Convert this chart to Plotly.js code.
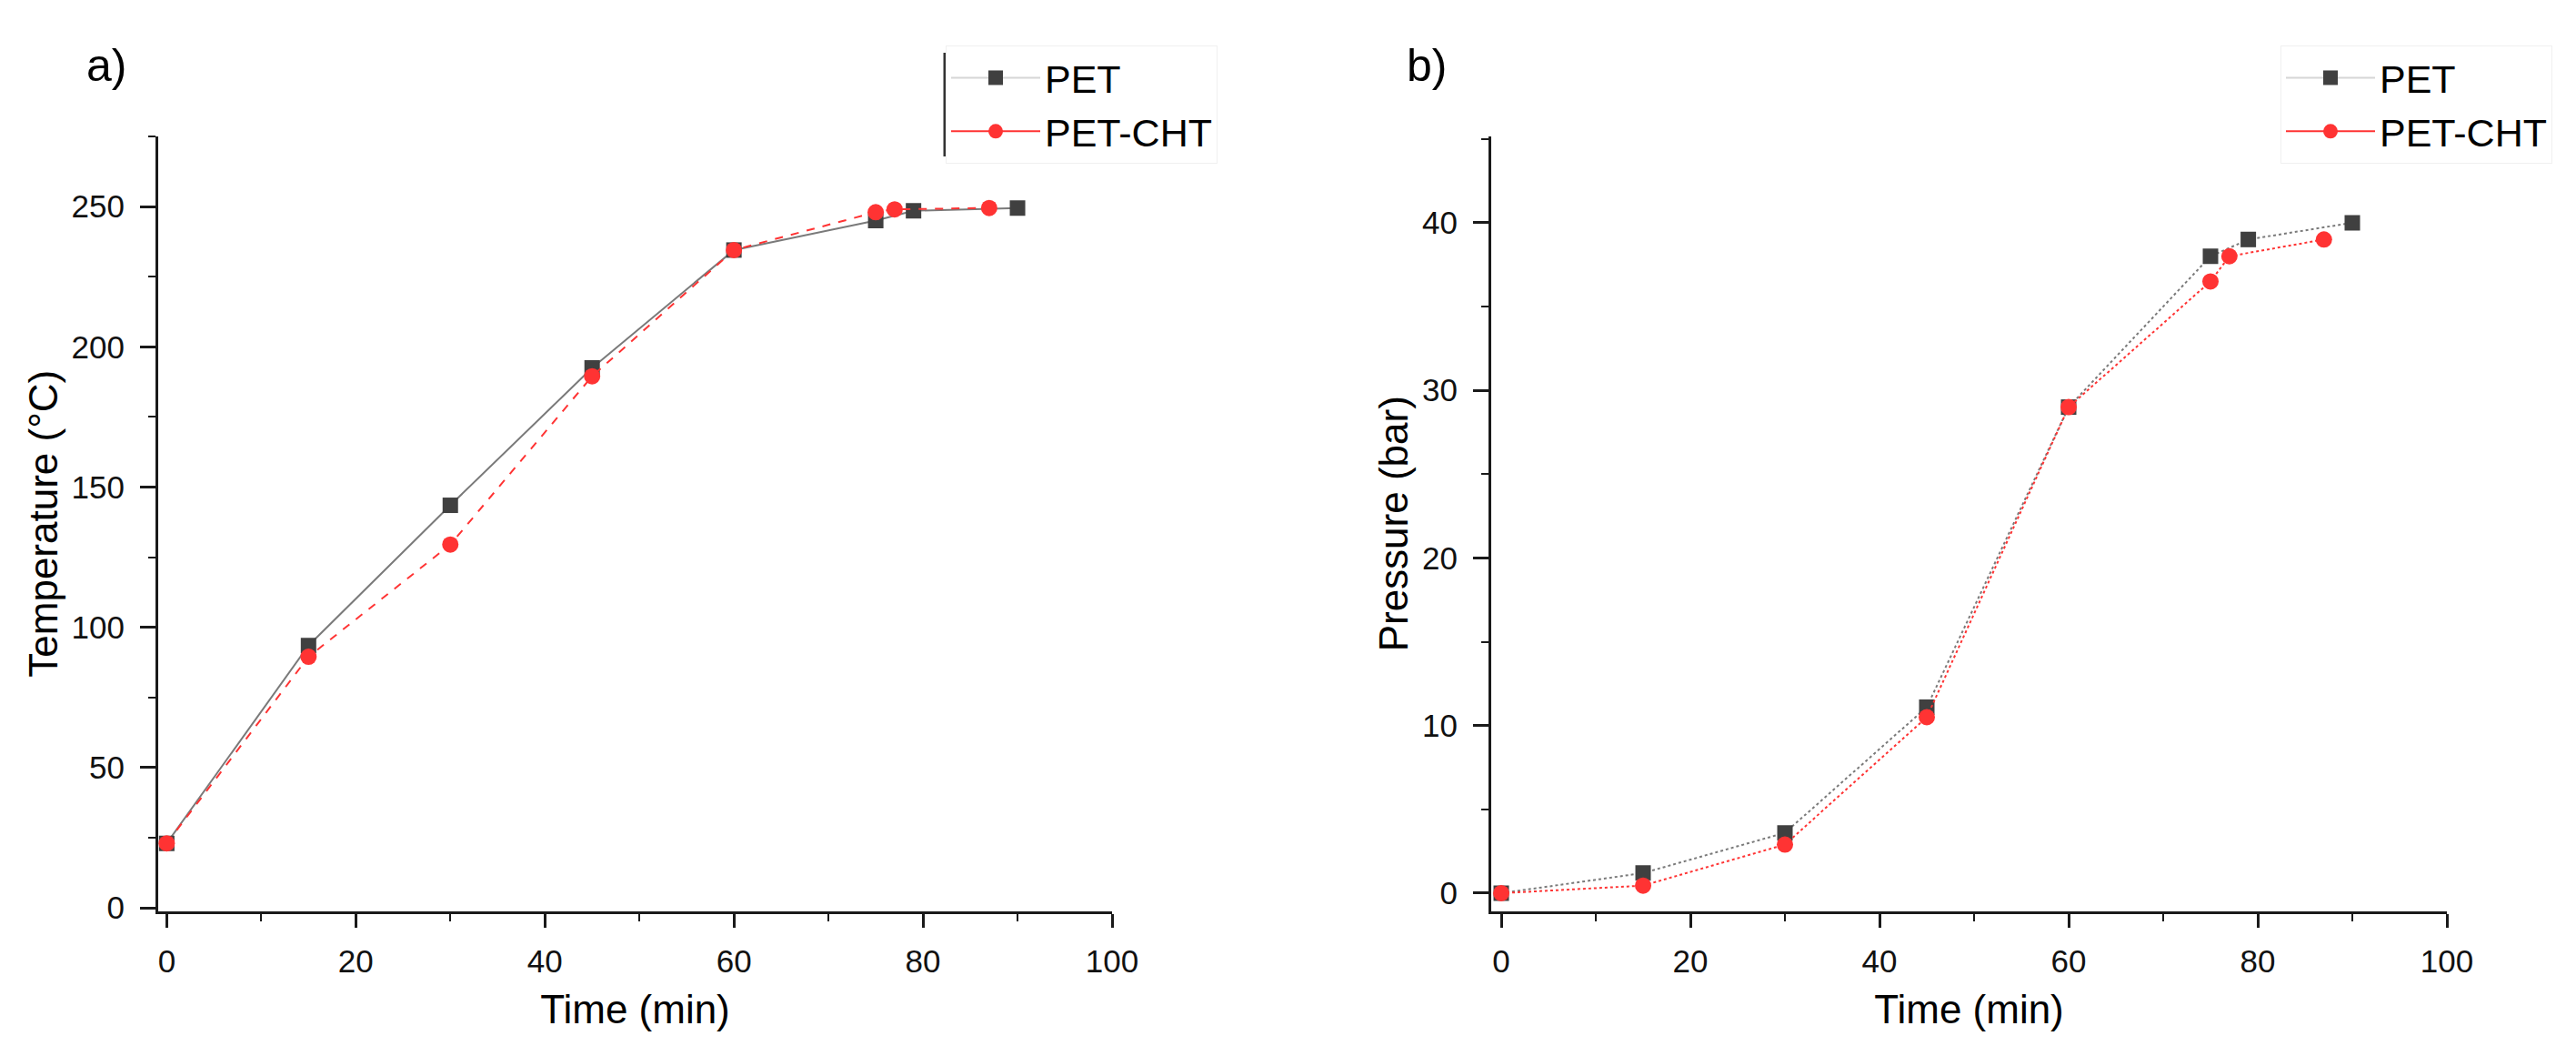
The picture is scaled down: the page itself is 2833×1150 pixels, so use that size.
<!DOCTYPE html>
<html>
<head>
<meta charset="utf-8">
<script src="https://cdn.plot.ly/plotly-3.0.1.min.js"></script>
<style>
  html, body { margin: 0; padding: 0; background: #ffffff; }
  #chart { width: 2833px; height: 1150px; }
</style>
</head>
<body>
<div id="chart"></div>
<script>
// ---- Data ----
// Panel a) Temperature vs time
const timePET_a    = [0, 15, 30, 45, 60, 75, 79, 90];
const tempPET      = [23, 93.5, 143.5, 192.5, 234.5, 245, 248.5, 249.5];
const timeCHT_a    = [0, 15, 30, 45, 60, 75, 77, 87];
const tempCHT      = [23, 89.5, 129.5, 189.5, 234.5, 248, 249, 249.5];

// Panel b) Pressure vs time
const timePET_b    = [0, 15, 30, 45, 60, 75, 79, 90];
const presPET      = [0, 1.2, 3.6, 11.1, 29, 38, 39, 40];
const timeCHT_b    = [0, 15, 30, 45, 60, 75, 77, 87];
const presCHT      = [0, 0.45, 2.9, 10.5, 29, 36.5, 38, 39];

const seriesNames  = ["PET", "PET-CHT"];
const xTicks       = [0, 20, 40, 60, 80, 100];
const yTicksTemp   = [0, 50, 100, 150, 200, 250];
const yTicksPres   = [0, 10, 20, 30, 40];
const panelLabels  = ["a)", "b)"];
const xTitle       = "Time (min)";
const yTitleTemp   = "Temperature (°C)";
const yTitlePres   = "Pressure (bar)";

// ---- Styling ----
const W = 2833, H = 1150;
const FONT = "Liberation Sans, Arial, Helvetica, sans-serif";
const GREY_LINE = "#7a7a7a", GREY_MARK = "#404040", RED = "#ff3333", GREY_LEG = "#d6d6d6";

function px(x) { return x / W; }
function py(y) { return 1 - y / H; }

const petMarker = { symbol: "square", size: 17, color: GREY_MARK };
const chtMarker = { symbol: "circle", size: 18, color: RED };

const traces = [
  // data series (legend entries drawn by the legend-key traces below)
  { x: timePET_a, y: tempPET, name: seriesNames[0], xaxis: "x", yaxis: "y", showlegend: false,
    mode: "lines+markers", line: { color: GREY_LINE, width: 2 }, marker: petMarker },
  { x: timeCHT_a, y: tempCHT, name: seriesNames[1], xaxis: "x", yaxis: "y", showlegend: false,
    mode: "lines+markers", line: { color: RED, width: 2, dash: "dash" }, marker: chtMarker },
  { x: timePET_b, y: presPET, name: seriesNames[0], xaxis: "x2", yaxis: "y2", showlegend: false,
    mode: "lines+markers", line: { color: GREY_LINE, width: 2, dash: "dot" }, marker: petMarker },
  { x: timeCHT_b, y: presCHT, name: seriesNames[1], xaxis: "x2", yaxis: "y2", showlegend: false,
    mode: "lines+markers", line: { color: RED, width: 2, dash: "dot" }, marker: chtMarker },
  // legend keys (solid sample lines as in the original legend)
  { x: [null], y: [null], name: seriesNames[0], xaxis: "x", yaxis: "y", legend: "legend",
    mode: "lines+markers", line: { color: GREY_LEG, width: 2 }, marker: petMarker },
  { x: [null], y: [null], name: seriesNames[1], xaxis: "x", yaxis: "y", legend: "legend",
    mode: "lines+markers", line: { color: RED, width: 2 }, marker: chtMarker },
  { x: [null], y: [null], name: seriesNames[0], xaxis: "x2", yaxis: "y2", legend: "legend2",
    mode: "lines+markers", line: { color: GREY_LEG, width: 2 }, marker: petMarker },
  { x: [null], y: [null], name: seriesNames[1], xaxis: "x2", yaxis: "y2", legend: "legend2",
    mode: "lines+markers", line: { color: RED, width: 2 }, marker: chtMarker }
];

function xAxis(domain, range) {
  return {
    domain: domain, range: range, tickmode: "array", tickvals: xTicks,
    showline: true, linewidth: 3, linecolor: "#1a1a1a", mirror: false,
    showgrid: false, zeroline: false,
    ticks: "outside", ticklen: 15, tickwidth: 3, tickcolor: "#1a1a1a",
    minor: { ticks: "outside", ticklen: 8, tickwidth: 2, tickcolor: "#1a1a1a", dtick: 10, showgrid: false },
    tickfont: { family: FONT, size: 35, color: "#111" },
    ticklabelstandoff: 7,
    title: { text: xTitle, font: { family: FONT, size: 44, color: "#000" }, standoff: 20 }
  };
}
function yAxis(domain, range, ticks, minorStep, title, anchor) {
  return {
    domain: domain, range: range, tickmode: "array", tickvals: ticks, anchor: anchor,
    showline: true, linewidth: 3, linecolor: "#1a1a1a", mirror: false,
    showgrid: false, zeroline: false,
    ticks: "outside", ticklen: 17, tickwidth: 3, tickcolor: "#1a1a1a",
    minor: { ticks: "outside", ticklen: 8, tickwidth: 2, tickcolor: "#1a1a1a", dtick: minorStep, showgrid: false },
    tickfont: { family: FONT, size: 35, color: "#111" },
    ticklabelstandoff: 10,
    title: { text: title, font: { family: FONT, size: 44, color: "#000" }, standoff: 2 }
  };
}

const yDom = [py(1001.5), py(150)];

const layout = {
  width: W, height: H,
  margin: { l: 0, r: 0, t: 0, b: 0, pad: 0 },
  paper_bgcolor: "#ffffff", plot_bgcolor: "#ffffff",
  showlegend: true,
  xaxis:  Object.assign(xAxis([px(174), px(1223)], [-0.9, 100]), { anchor: "y" }),
  yaxis:  yAxis(yDom, [-1.1, 275], yTicksTemp, 25, yTitleTemp, "x"),
  xaxis2: Object.assign(xAxis([px(1640), px(2691)], [-1.06, 100]), { anchor: "y2" }),
  yaxis2: yAxis(yDom, [-1.06, 45.15], yTicksPres, 5, yTitlePres, "x2"),
  legend: {
    x: px(1040), xanchor: "left", y: py(50), yanchor: "top",
    font: { family: FONT, size: 43, color: "#000" },
    itemwidth: 98, bgcolor: "rgba(255,255,255,0)", bordercolor: "#f0f0f0", borderwidth: 1,
    tracegroupgap: 0
  },
  legend2: {
    x: px(2508), xanchor: "left", y: py(50), yanchor: "top",
    font: { family: FONT, size: 43, color: "#000" },
    itemwidth: 98, bgcolor: "rgba(255,255,255,0)", bordercolor: "#f0f0f0", borderwidth: 1,
    tracegroupgap: 0
  },
  shapes: [
    { type: "line", xref: "paper", yref: "paper", x0: px(1039), x1: px(1039), y0: py(58), y1: py(172),
      line: { color: "#333333", width: 3 } }
  ],
  annotations: [
    { text: panelLabels[0], xref: "paper", yref: "paper", x: px(117), y: py(72),
      xanchor: "center", yanchor: "middle", showarrow: false,
      font: { family: FONT, size: 50, color: "#000" } },
    { text: panelLabels[1], xref: "paper", yref: "paper", x: px(1569), y: py(72),
      xanchor: "center", yanchor: "middle", showarrow: false,
      font: { family: FONT, size: 50, color: "#000" } }
  ]
};

Plotly.newPlot("chart", traces, layout, { staticPlot: true, displayModeBar: false });
</script>
</body>
</html>
